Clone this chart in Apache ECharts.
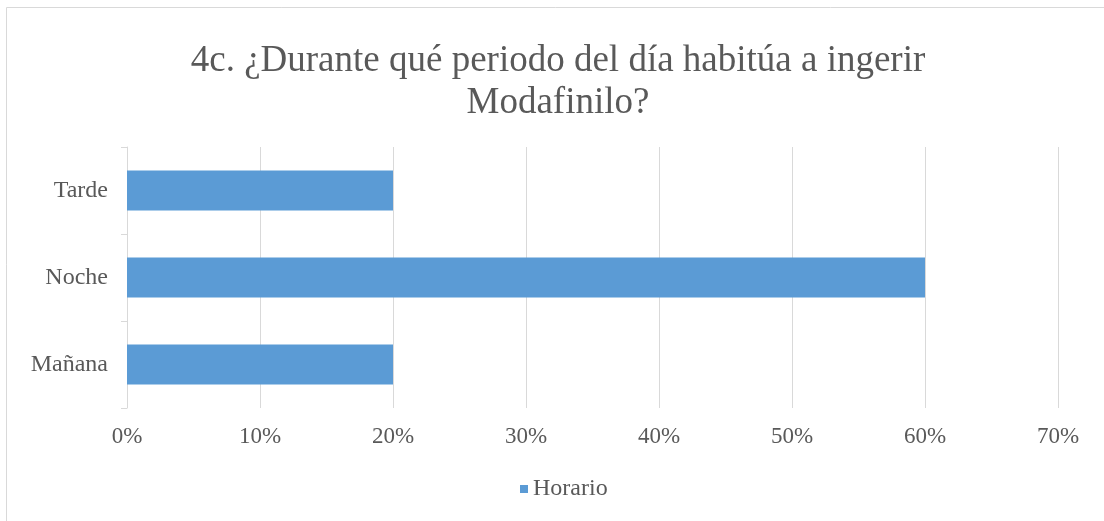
<!DOCTYPE html>
<html>
<head>
<meta charset="utf-8">
<script src="https://cdn.jsdelivr.net/npm/echarts@6/dist/echarts.min.js"></script>
<style>
  html, body { margin: 0; padding: 0; background: #fff; }
  #chart { width: 1104px; height: 521px; }
</style>
</head>
<body>
<div id="chart"></div>
<script>
// datos del grafico
var categorias = ['Mañana', 'Noche', 'Tarde'];
var horario = [20, 60, 20];
var ticksX = [0, 10, 20, 30, 40, 50, 60, 70];

var serif = '"Liberation Serif", "Times New Roman", serif';
var gris = '#595959';

var chart = echarts.init(document.getElementById('chart'));
chart.setOption({
    animation: false,
    graphic: [{
        type: 'rect',
        shape: { x: 6.5, y: 7.5, width: 1200, height: 600 },
        style: { fill: 'none', stroke: '#d9d9d9', lineWidth: 1 },
        silent: true
    }],
    title: {
        text: '4c. ¿Durante qué periodo del día habitúa a ingerir\nModafinilo?',
        left: 553,
        top: 35,
        textAlign: 'center',
        textStyle: {
            fontFamily: serif,
            fontSize: 37,
            fontWeight: 'normal',
            color: gris,
            lineHeight: 42
        }
    },
    legend: {
        data: ['Horario'],
        bottom: 15,
        left: 515,
        icon: 'rect',
        itemWidth: 8,
        itemHeight: 8,
        textStyle: { fontFamily: serif, fontSize: 24, color: gris }
    },
    grid: { left: 127, right: 46, top: 147, bottom: 113 },
    xAxis: {
        type: 'value',
        min: ticksX[0],
        max: ticksX[ticksX.length - 1],
        interval: 10,
        axisLine: { show: false },
        axisTick: { show: false },
        splitLine: { lineStyle: { color: '#d9d9d9', width: 1 } },
        axisLabel: {
            formatter: '{value}%',
            fontFamily: serif,
            fontSize: 23,
            color: gris,
            margin: 17
        }
    },
    yAxis: {
        type: 'category',
        data: categorias,
        axisLine: { show: true, lineStyle: { color: '#d9d9d9', width: 1 } },
        axisTick: { show: true, length: 6, lineStyle: { color: '#d9d9d9' } },
        axisLabel: {
            fontFamily: serif,
            fontSize: 24,
            color: gris,
            margin: 19
        }
    },
    series: [{
        name: 'Horario',
        type: 'bar',
        data: horario,
        barWidth: 40,
        itemStyle: { color: '#5b9bd5' }
    }]
});
</script>
</body>
</html>
